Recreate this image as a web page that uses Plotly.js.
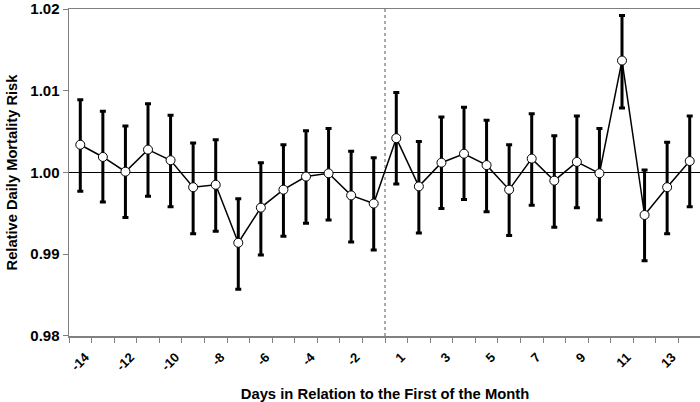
<!DOCTYPE html>
<html>
<head>
<meta charset="utf-8">
<script src="https://cdn.plot.ly/plotly-3.0.1.min.js"></script>
<style>
html,body{margin:0;padding:0;overflow:hidden;background:#fff;}
#chart{width:700px;height:402px;}
</style>
</head>
<body>
<div id="chart"></div>
<script>
// Days relative to the first of the month
const days = ['-14','-13','-12','-11','-10','-9','-8','-7','-6','-5','-4','-3','-2','-1',
              '1','2','3','4','5','6','7','8','9','10','11','12','13','14'];
// Labels shown on the axis (every other day)
const tickLabels = ['-14','','-12','','-10','','-8','','-6','','-4','','-2','',
                    '1','','3','','5','','7','','9','','11','','13',''];
// Relative daily mortality risk
const rr = [1.0034,1.0019,1.0001,1.0028,1.0015,0.9982,0.9985,0.9914,0.9957,0.9979,0.9995,0.9999,0.9972,0.9962,
            1.0042,0.9983,1.0012,1.0023,1.0009,0.9979,1.0017,0.9990,1.0013,0.9999,1.0137,0.9948,0.9982,1.0014];
// 95% confidence interval bounds
const ciUpper = [1.0089,1.0075,1.0057,1.0084,1.0070,1.0036,1.0040,0.9968,1.0012,1.0034,1.0051,1.0054,1.0026,1.0018,
                 1.0098,1.0038,1.0068,1.0080,1.0064,1.0034,1.0072,1.0045,1.0069,1.0054,1.0192,1.0003,1.0037,1.0069];
const ciLower = [0.9977,0.9964,0.9945,0.9971,0.9958,0.9925,0.9928,0.9857,0.9899,0.9922,0.9938,0.9942,0.9915,0.9905,
                 0.9986,0.9926,0.9956,0.9967,0.9952,0.9923,0.9960,0.9933,0.9957,0.9942,1.0079,0.9892,0.9925,0.9958];
const yTicks = [0.98, 0.99, 1.00, 1.01, 1.02];

const errPlus = rr.map((v, i) => ciUpper[i] - v);
const errMinus = rr.map((v, i) => v - ciLower[i]);

const FONT = 'Liberation Sans, Arial, sans-serif';

const trace = {
  type: 'scatter',
  mode: 'lines+markers',
  x: days,
  y: rr,
  line: {color: '#000', width: 1.5},
  marker: {symbol: 'circle', size: 9, color: '#fff', line: {color: '#000', width: 1}},
  error_y: {type: 'data', symmetric: false, array: errPlus, arrayminus: errMinus,
            color: '#000', thickness: 3, width: 3},
  hoverinfo: 'skip'
};

const layout = {
  width: 701, height: 402,
  margin: {l: 69, r: 0, t: 9, b: 66, pad: 0},
  paper_bgcolor: '#fff', plot_bgcolor: '#fff',
  showlegend: false,
  font: {family: FONT, color: '#000'},
  xaxis: {
    type: 'category',
    range: [-0.5, 27.5],
    tickmode: 'array', tickvals: days, ticktext: tickLabels,
    tickson: 'boundaries',
    ticks: 'outside', ticklen: 5, tickwidth: 1, tickcolor: '#808080',
    tickangle: -45,
    tickfont: {family: FONT, size: 13, color: '#000', weight: 'bold'},
    ticklabelshift: 5, ticklabelstandoff: 7,
    showline: true, linecolor: '#808080', linewidth: 1.5, mirror: true,
    showgrid: false, zeroline: false,
    title: {text: '<b>Days in Relation to the First of the Month</b>',
            font: {family: FONT, size: 14.8, color: '#000'}, standoff: 16}
  },
  yaxis: {
    range: [0.97999, 1.02001],
    tickmode: 'array', tickvals: yTicks, tickformat: '.2f',
    ticks: 'outside', ticklen: 5, tickwidth: 1, tickcolor: '#808080',
    tickfont: {family: FONT, size: 15, color: '#000', weight: 'bold'},
    ticklabeloverflow: 'allow',
    showline: true, linecolor: '#808080', linewidth: 1.5,
    showgrid: false, zeroline: false,
    title: {text: '<b>Relative Daily Mortality Risk</b>',
            font: {family: FONT, size: 14.7, color: '#000'}, standoff: 9}
  },
  shapes: [
    {type: 'line', xref: 'paper', yref: 'y', x0: 0, x1: 1, y0: 1, y1: 1,
     line: {color: '#000', width: 1.2}, layer: 'below'},
    {type: 'line', xref: 'paper', yref: 'paper', x0: 0.5, x1: 0.5, y0: 0, y1: 1,
     line: {color: '#555', width: 1, dash: 'dot'}, layer: 'below'}
  ]
};

Plotly.newPlot('chart', [trace], layout, {displayModeBar: false, staticPlot: true});
</script>
</body>
</html>
